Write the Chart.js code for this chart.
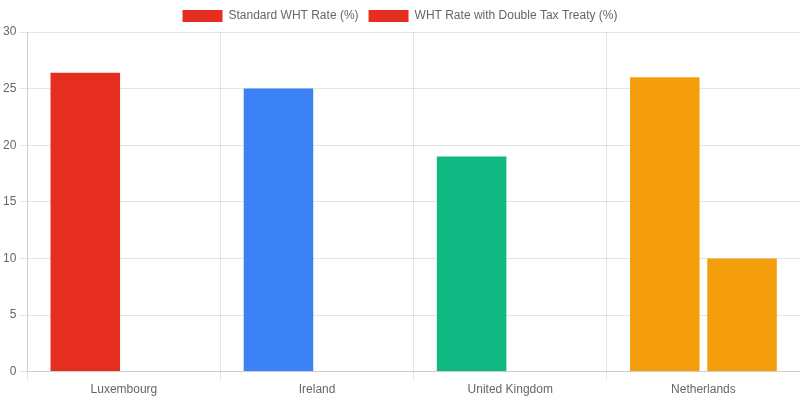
<!DOCTYPE html>
<html><head><meta charset="utf-8">
<script src="https://cdn.jsdelivr.net/npm/chart.js@4"></script>
<style>html,body{margin:0;padding:0;background:#fff}#w{width:800px;height:400px}</style>
</head><body><div id="w"><canvas id="c"></canvas></div>
<script>
const categories = ["Luxembourg", "Ireland", "United Kingdom", "Netherlands"];
const standardRate = [26.4, 25, 19, 26];
const treatyRate = [0, 0, 0, 10];
const barColors = ["#e52e20", "#3b82f6", "#10b981", "#f59e0b"];
new Chart(document.getElementById('c'), {
  type: 'bar',
  data: {
    labels: categories,
    datasets: [
      { label: 'Standard WHT Rate (%)', data: standardRate, backgroundColor: barColors },
      { label: 'WHT Rate with Double Tax Treaty (%)', data: treatyRate, backgroundColor: barColors }
    ]
  },
  options: {
    responsive: true, maintainAspectRatio: false, animation: false,
    plugins: { legend: { labels: { color: '#666' } } },
    scales: {
      y: { min: 0, max: 30, ticks: { stepSize: 5, color: '#666' } },
      x: { ticks: { color: '#666' } }
    }
  }
});
</script></body></html>
